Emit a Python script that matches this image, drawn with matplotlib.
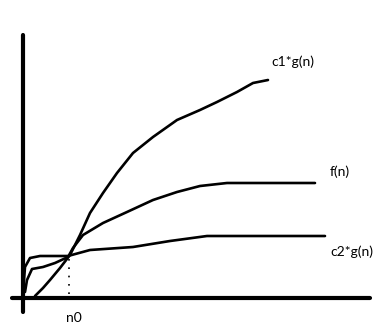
import matplotlib
matplotlib.use('Agg')
import matplotlib.pyplot as plt

# hand-drawn curves (origin at the axes corner)
c1_x = [12, 20, 27, 37, 47, 57, 67, 80, 94, 110, 130, 154, 177, 194, 214, 230, 245]
c1_y = [2, 10, 18, 30, 43, 63, 85, 105, 125, 145, 161, 178, 188, 196, 206, 215, 218]

f_x = [2, 4, 9, 20, 32, 45, 50, 60, 80, 104, 130, 154, 177, 204, 257, 292]
f_y = [6, 18, 29, 31, 35, 41, 50, 63, 75, 86, 98, 106, 112, 115, 115, 115]

c2_x = [0, 2, 7, 17, 30, 45, 67, 110, 147, 184, 257, 302]
c2_y = [5, 31, 40, 42, 42, 42, 48, 51, 57, 62, 62, 62]

n0 = 46
labels = ['c1*g(n)', 'f(n)', 'c2*g(n)']
label_pos = [(248, 236), (307, 126), (307, 46)]

fig = plt.figure(figsize=(3.8, 3.26), dpi=100)
ax = fig.add_axes([0, 0, 1, 1])
ax.set_xlim(-23, 357)
ax.set_ylim(-28, 298)
ax.axis('off')

# axes drawn by hand
ax.plot([-11, 347], [0, 0], color='black', lw=3, solid_capstyle='round')
ax.plot([0, 0], [-14, 263], color='black', lw=3, solid_capstyle='round')

for xx, yy in [(c1_x, c1_y), (f_x, f_y), (c2_x, c2_y)]:
    ax.plot(xx, yy, color='black', lw=1.9, solid_joinstyle='round',
            solid_capstyle='round')

ax.plot([n0, n0], [4, 40], color='black', lw=1.2, ls=(0, (1, 4)))

for txt, (xx, yy) in zip(labels, label_pos):
    ax.text(xx, yy, txt, fontsize=10, family='Lato', va='center', ha='left')
ax.text(n0 + 5, -20, 'n0', fontsize=10, family='Lato', va='center', ha='center')

fig.savefig('out.png', dpi=100, facecolor='white')
